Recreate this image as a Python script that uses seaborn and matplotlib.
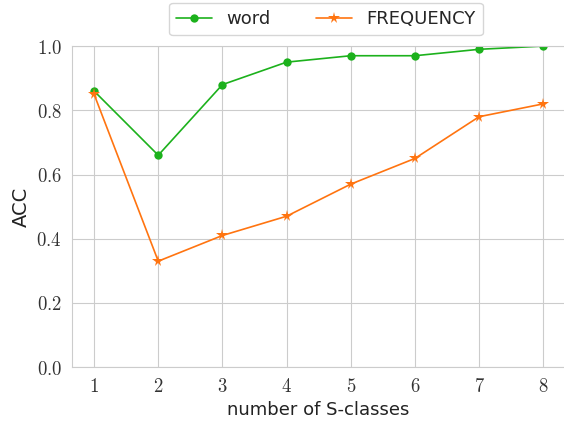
import seaborn as sns
import matplotlib
matplotlib.use("Agg")
import matplotlib.pyplot as plt
import pandas as pd
from matplotlib.ticker import FuncFormatter

classes = [1, 2, 3, 4, 5, 6, 7, 8]
word_acc = [0.86, 0.66, 0.88, 0.95, 0.97, 0.97, 0.99, 1.00]
freq_acc = [0.85, 0.33, 0.41, 0.47, 0.57, 0.65, 0.78, 0.82]

df = pd.DataFrame({
    "classes": classes * 2,
    "acc": word_acc + freq_acc,
    "method": ["word"] * len(classes) + ["FREQUENCY"] * len(classes),
})

sns.set_style("whitegrid")
plt.rcParams["font.family"] = ["DejaVu Sans"]
plt.rcParams["mathtext.fontset"] = "cm"

palette = {"word": "#1cb11c", "FREQUENCY": "#ff7410"}
markers = {"word": "o", "FREQUENCY": "*"}

fig = plt.figure(figsize=(5.64, 4.21), dpi=100)
ax = fig.add_axes([0.127, 0.128, 0.876, 0.7625])
sns.lineplot(
    x="classes",
    y="acc",
    data=df,
    hue="method",
    style="method",
    markers=markers,
    dashes=False,
    palette=palette,
    markersize=6,
    markeredgewidth=0,
    linewidth=1.2,
    ax=ax,
)
# stars look small at the same size as the circles
for line in ax.lines:
    if line.get_marker() == "*":
        line.set_markersize(8.5)

ax.set_ylim(0, 1.0)
ax.set_xticks(classes)
ax.set_yticks([0.0, 0.2, 0.4, 0.6, 0.8, 1.0])
ax.xaxis.set_major_formatter(FuncFormatter(lambda v, p: r"$%d$" % v))
ax.yaxis.set_major_formatter(FuncFormatter(lambda v, p: r"$%.1f$" % v))
ax.tick_params(axis="both", labelsize=13.5, colors="#333333")
ax.set_xlabel("number of S-classes", fontsize=13, color="#222222")
ax.set_ylabel("ACC", fontsize=14, color="#222222")
for s in ax.spines.values():
    s.set_color("#cccccc")

handles, labels = ax.get_legend_handles_labels()
for h in handles:
    if h.get_marker() == "*":
        h.set_markersize(8.5)
ax.legend(
    handles, labels,
    loc="center", bbox_to_anchor=(0.578, 0.955), bbox_transform=fig.transFigure,
    ncol=2, fontsize=13, frameon=True, columnspacing=2.5,
)

fig.savefig("out.png", dpi=100)
